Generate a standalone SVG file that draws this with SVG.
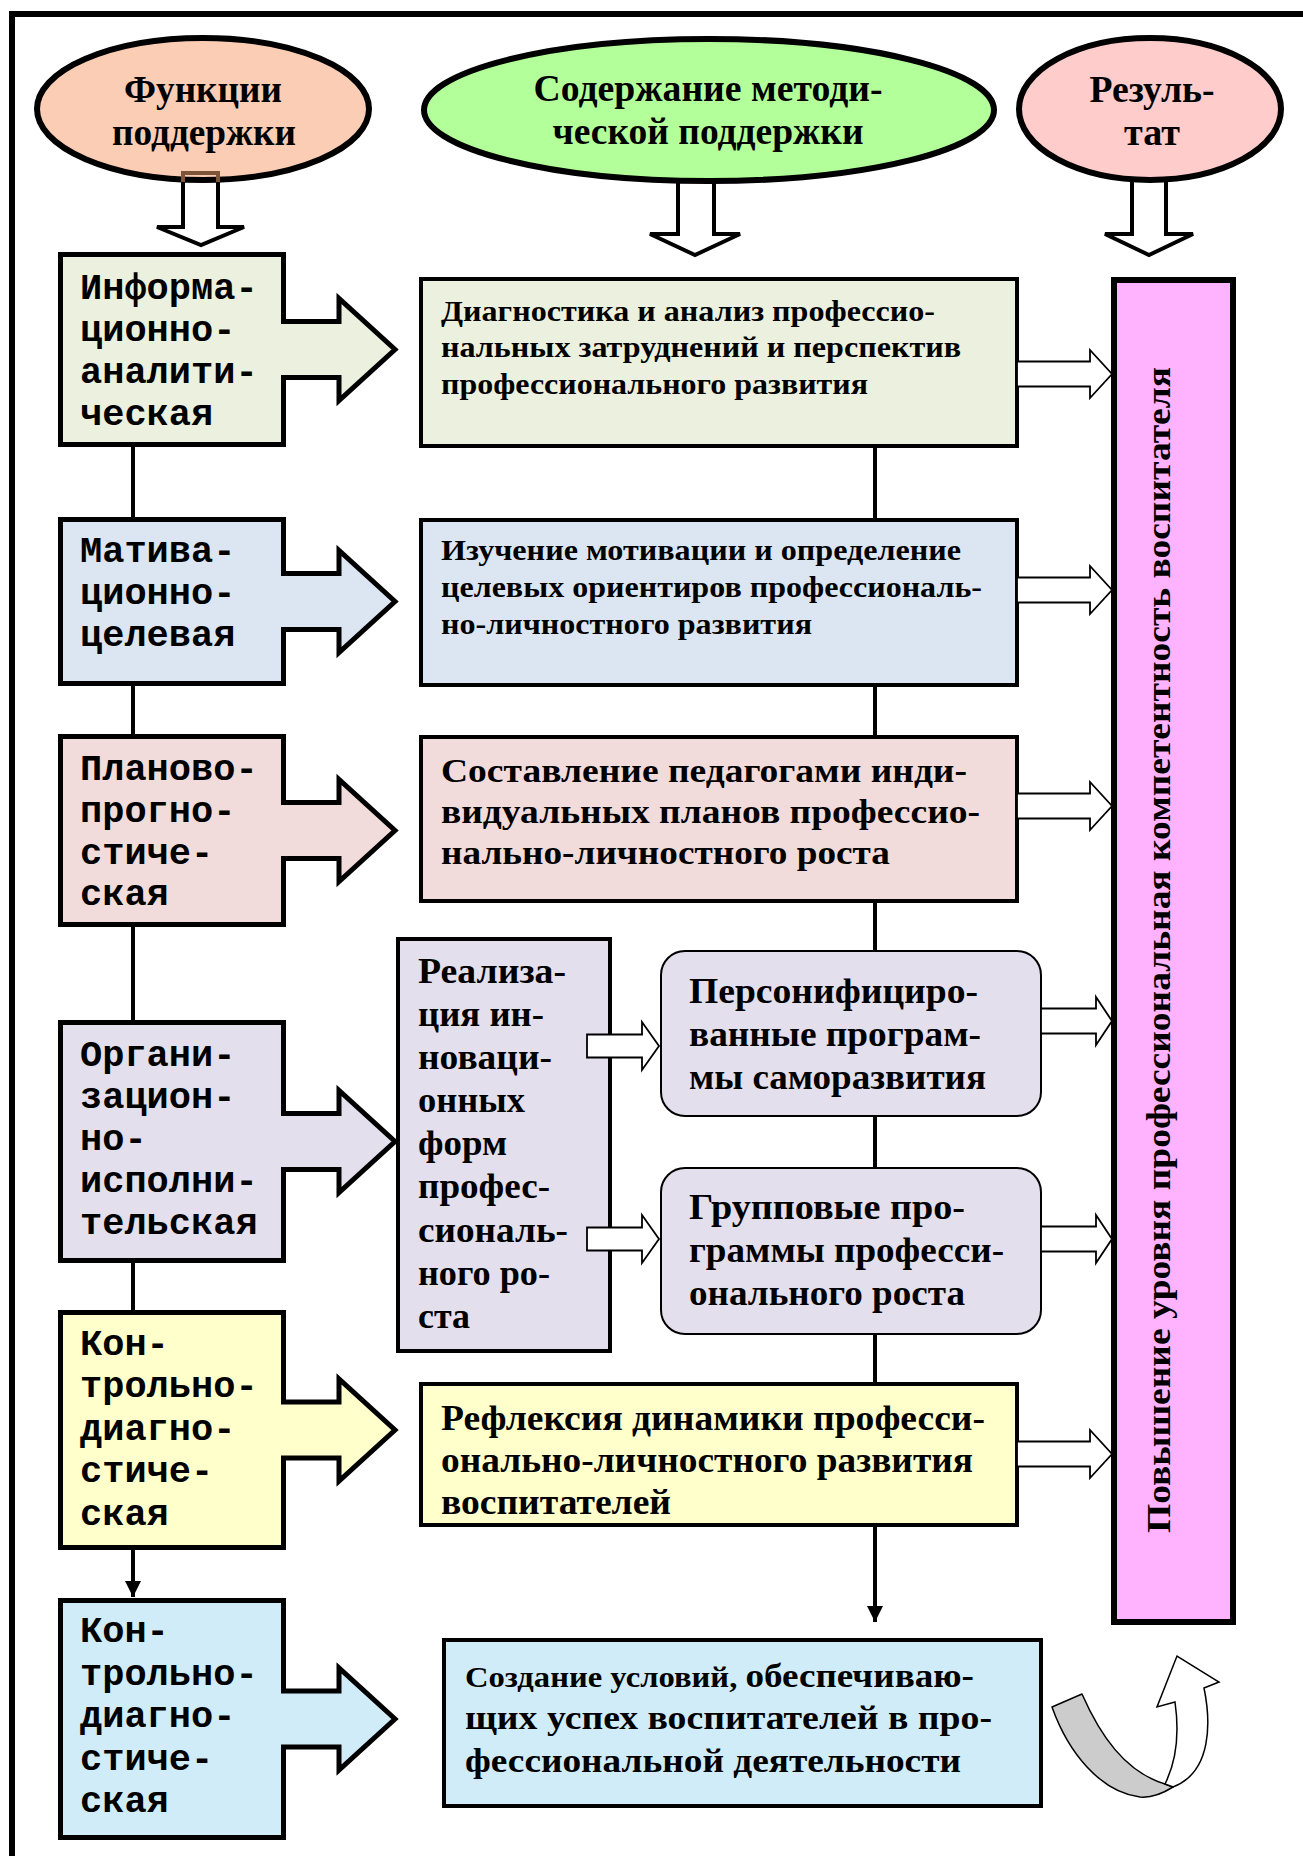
<svg xmlns="http://www.w3.org/2000/svg" width="1303" height="1856" viewBox="0 0 1303 1856">
<style>
.t{font-family:"Liberation Serif","Times New Roman",serif;font-weight:bold;fill:#000}
.m{font-family:"Liberation Mono","Courier New",monospace;font-weight:bold;font-size:37px;fill:#000}
.bx{stroke:#000;stroke-width:4}
.lb{stroke:#000;stroke-width:5;stroke-linejoin:miter}
.rb{stroke:#000;stroke-width:2}
.ln{stroke:#000;stroke-width:4;fill:none}
.ha{fill:#fff;stroke:#000;stroke-width:1.8;stroke-linejoin:miter}
.ba{fill:#fff;stroke:#000;stroke-width:4;stroke-linejoin:miter}
.el{stroke:#000;stroke-width:6}
</style>
<defs>
<marker id="ah" viewBox="0 0 10 10" refX="10" refY="5" markerWidth="4" markerHeight="4" orient="auto" markerUnits="strokeWidth">
<path d="M0,0 L10,5 L0,10 Z" fill="#000"/>
</marker>
</defs>
<rect width="1303" height="1856" fill="#fff"/>
<path d="M12,1856 V14 H1303" fill="none" stroke="#000" stroke-width="6"/>

<g id="header-arrows">
<polygon class="ba" points="183,175 218,175 218,227 244,227 201,245 157,227 183,227"/>
<polygon class="ba" points="678,170 714,170 714,234 740,234 695,255 650,234 678,234"/>
<polygon class="ba" points="1132,170 1166,170 1166,234 1193,234 1149,255 1105,234 1132,234"/>
</g>

<g id="ellipse-functions">
<ellipse class="el" cx="203" cy="109" rx="166" ry="71" fill="#FBCDB4"/>
<path d="M183,182 V173 H218 V182" fill="none" stroke="#7F5539" stroke-width="4"/>
<text class="t" x="203" y="102" font-size="37" text-anchor="middle" textLength="158" lengthAdjust="spacingAndGlyphs">Функции</text>
<text class="t" x="204" y="145" font-size="37" text-anchor="middle" textLength="184" lengthAdjust="spacingAndGlyphs">поддержки</text>
</g>
<g id="ellipse-content">
<ellipse class="el" cx="709" cy="110" rx="285" ry="71" fill="#B3FF99"/>
<text class="t" x="708" y="101" font-size="37" text-anchor="middle" textLength="349" lengthAdjust="spacingAndGlyphs">Содержание методи-</text>
<text class="t" x="708" y="144" font-size="37" text-anchor="middle" textLength="311" lengthAdjust="spacingAndGlyphs">ческой поддержки</text>
</g>
<g id="ellipse-result">
<ellipse class="el" cx="1150" cy="109" rx="131" ry="71" fill="#FFCCCC"/>
<text class="t" x="1152" y="102" font-size="37" text-anchor="middle" textLength="125" lengthAdjust="spacingAndGlyphs">Резуль-</text>
<text class="t" x="1152" y="145" font-size="37" text-anchor="middle" textLength="56" lengthAdjust="spacingAndGlyphs">тат</text>
</g>

<g id="connectors">
<line class="ln" x1="133" y1="447" x2="133" y2="517"/>
<line class="ln" x1="133" y1="686" x2="133" y2="734"/>
<line class="ln" x1="133" y1="927" x2="133" y2="1020"/>
<line class="ln" x1="133" y1="1263" x2="133" y2="1310"/>
<line class="ln" x1="133" y1="1550" x2="133" y2="1597" marker-end="url(#ah)"/>
<line class="ln" x1="875" y1="448" x2="875" y2="518"/>
<line class="ln" x1="875" y1="687" x2="875" y2="735"/>
<line class="ln" x1="875" y1="903" x2="875" y2="950"/>
<line class="ln" x1="875" y1="1117" x2="875" y2="1167"/>
<line class="ln" x1="875" y1="1335" x2="875" y2="1382"/>
<line class="ln" x1="875" y1="1527" x2="875" y2="1622" marker-end="url(#ah)"/>
</g>

<g id="f-info">
<path class="lb" fill="#EBF1DE" d="M60.5,254.5 H283.5 V321.5 H339 V298.5 L395,349.5 L339,400.5 V377.5 H283.5 V444.5 H60.5 Z"/>
<text class="m" x="80" y="299">Информа-</text>
<text class="m" x="80" y="341">ционно-</text>
<text class="m" x="80" y="383">аналити-</text>
<text class="m" x="80" y="425">ческая</text>
</g>
<g id="f-motiv">
<path class="lb" fill="#DCE6F2" d="M60.5,519.5 H283.5 V573.5 H339 V550.5 L395,601.5 L339,652.5 V629.5 H283.5 V683.5 H60.5 Z"/>
<text class="m" x="80" y="562">Матива-</text>
<text class="m" x="80" y="604">ционно-</text>
<text class="m" x="80" y="646">целевая</text>
</g>
<g id="f-plan">
<path class="lb" fill="#F2DCDB" d="M60.5,736.5 H283.5 V802.5 H339 V779.5 L395,830.5 L339,881.5 V858.5 H283.5 V924.5 H60.5 Z"/>
<text class="m" x="80" y="780">Планово-</text>
<text class="m" x="80" y="822">прогно-</text>
<text class="m" x="80" y="864">стиче-</text>
<text class="m" x="80" y="905">ская</text>
</g>
<g id="f-org">
<path class="lb" fill="#E4DFEC" d="M60.5,1022.5 H283.5 V1113.5 H339 V1090.5 L395,1141.5 L339,1192.5 V1169.5 H283.5 V1260.5 H60.5 Z"/>
<text class="m" x="80" y="1066">Органи-</text>
<text class="m" x="80" y="1108">зацион-</text>
<text class="m" x="80" y="1150">но-</text>
<text class="m" x="80" y="1192">исполни-</text>
<text class="m" x="80" y="1234">тельская</text>
</g>
<g id="f-control1">
<path class="lb" fill="#FFFFCC" d="M60.5,1312.5 H283.5 V1402 H339 V1379 L395,1430 L339,1481 V1458 H283.5 V1547.5 H60.5 Z"/>
<text class="m" x="80" y="1355">Кон-</text>
<text class="m" x="80" y="1397">трольно-</text>
<text class="m" x="80" y="1440">диагно-</text>
<text class="m" x="80" y="1482">стиче-</text>
<text class="m" x="80" y="1525">ская</text>
</g>
<g id="f-control2">
<path class="lb" fill="#D1ECF9" d="M60.5,1600.5 H283.5 V1691 H339 V1668 L395,1719 L339,1770 V1747 H283.5 V1837.5 H60.5 Z"/>
<text class="m" x="80" y="1642">Кон-</text>
<text class="m" x="80" y="1685">трольно-</text>
<text class="m" x="80" y="1727">диагно-</text>
<text class="m" x="80" y="1770">стиче-</text>
<text class="m" x="80" y="1812">ская</text>
</g>

<g id="c-diag">
<rect class="bx" x="421" y="279" width="596" height="167" fill="#EBF1DE"/>
<text class="t" font-size="30" x="441" y="321" textLength="494" lengthAdjust="spacingAndGlyphs">Диагностика и анализ профессио-</text>
<text class="t" font-size="30" x="441" y="357" textLength="520" lengthAdjust="spacingAndGlyphs">нальных затруднений и перспектив</text>
<text class="t" font-size="30" x="441" y="394" textLength="427" lengthAdjust="spacingAndGlyphs">профессионального развития</text>
</g>
<g id="c-motiv">
<rect class="bx" x="421" y="520" width="596" height="165" fill="#DCE6F2"/>
<text class="t" font-size="30" x="441" y="560" textLength="520" lengthAdjust="spacingAndGlyphs">Изучение мотивации и определение</text>
<text class="t" font-size="30" x="441" y="597" textLength="541" lengthAdjust="spacingAndGlyphs">целевых ориентиров профессиональ-</text>
<text class="t" font-size="30" x="441" y="634" textLength="371" lengthAdjust="spacingAndGlyphs">но-личностного развития</text>
</g>
<g id="c-plan">
<rect class="bx" x="421" y="737" width="596" height="164" fill="#F2DCDB"/>
<text class="t" font-size="34" x="441" y="782" textLength="526" lengthAdjust="spacingAndGlyphs">Составление педагогами инди-</text>
<text class="t" font-size="34" x="441" y="823" textLength="539" lengthAdjust="spacingAndGlyphs">видуальных планов профессио-</text>
<text class="t" font-size="34" x="441" y="864" textLength="449" lengthAdjust="spacingAndGlyphs">нально-личностного роста</text>
</g>
<g id="c-realiz">
<rect class="bx" x="398" y="939" width="212" height="412" fill="#E4DFEC"/>
<text class="t" font-size="35" x="418" y="983" textLength="148" lengthAdjust="spacingAndGlyphs">Реализа-</text>
<text class="t" font-size="35" x="418" y="1026" textLength="126" lengthAdjust="spacingAndGlyphs">ция ин-</text>
<text class="t" font-size="35" x="418" y="1069" textLength="134" lengthAdjust="spacingAndGlyphs">новаци-</text>
<text class="t" font-size="35" x="418" y="1112" textLength="107" lengthAdjust="spacingAndGlyphs">онных</text>
<text class="t" font-size="35" x="418" y="1155" textLength="89" lengthAdjust="spacingAndGlyphs">форм</text>
<text class="t" font-size="35" x="418" y="1198" textLength="132" lengthAdjust="spacingAndGlyphs">профес-</text>
<text class="t" font-size="35" x="418" y="1242" textLength="150" lengthAdjust="spacingAndGlyphs">сиональ-</text>
<text class="t" font-size="35" x="418" y="1285" textLength="132" lengthAdjust="spacingAndGlyphs">ного ро-</text>
<text class="t" font-size="35" x="418" y="1328" textLength="52" lengthAdjust="spacingAndGlyphs">ста</text>
</g>
<g id="c-person">
<rect class="rb" x="661" y="951" width="380" height="165" rx="24" fill="#E4DFEC"/>
<text class="t" font-size="36" x="689" y="1003" textLength="289" lengthAdjust="spacingAndGlyphs">Персонифициро-</text>
<text class="t" font-size="36" x="689" y="1046" textLength="292" lengthAdjust="spacingAndGlyphs">ванные програм-</text>
<text class="t" font-size="36" x="689" y="1089" textLength="297" lengthAdjust="spacingAndGlyphs">мы саморазвития</text>
</g>
<g id="c-group">
<rect class="rb" x="661" y="1168" width="380" height="166" rx="24" fill="#E4DFEC"/>
<text class="t" font-size="36" x="689" y="1219" textLength="276" lengthAdjust="spacingAndGlyphs">Групповые про-</text>
<text class="t" font-size="36" x="689" y="1262" textLength="315" lengthAdjust="spacingAndGlyphs">граммы професси-</text>
<text class="t" font-size="36" x="689" y="1305" textLength="276" lengthAdjust="spacingAndGlyphs">онального роста</text>
</g>
<g id="c-reflex">
<rect class="bx" x="421" y="1384" width="596" height="141" fill="#FFFFCC"/>
<text class="t" font-size="35" x="441" y="1430" textLength="544" lengthAdjust="spacingAndGlyphs">Рефлексия динамики професси-</text>
<text class="t" font-size="35" x="441" y="1472" textLength="532" lengthAdjust="spacingAndGlyphs">онально-личностного развития</text>
<text class="t" font-size="35" x="441" y="1514" textLength="230" lengthAdjust="spacingAndGlyphs">воспитателей</text>
</g>
<g id="c-create">
<rect class="bx" x="444" y="1640" width="597" height="166" fill="#D1ECF9"/>
<text class="t" x="465" y="1687" textLength="509" lengthAdjust="spacingAndGlyphs"><tspan font-size="29">Создание условий, </tspan><tspan font-size="33">обеспечиваю-</tspan></text>
<text class="t" font-size="33" x="465" y="1729" textLength="527" lengthAdjust="spacingAndGlyphs">щих успех воспитателей в про-</text>
<text class="t" font-size="33" x="465" y="1772" textLength="496" lengthAdjust="spacingAndGlyphs">фессиональной деятельности</text>
</g>

<g id="result">
<rect x="1114" y="280" width="119" height="1342" fill="#FFB3FF" stroke="#000" stroke-width="6"/>
<text class="t" font-size="34" transform="translate(1170,950) rotate(-90)" text-anchor="middle" textLength="1166" lengthAdjust="spacingAndGlyphs">Повышение уровня профессиональная компетентность воспитателя</text>
</g>

<g id="flow-arrows">
<polygon class="ha" points="1017,361.5 1090,361.5 1090,350 1112,374 1090,398 1090,386.5 1017,386.5"/>
<polygon class="ha" points="1017,577.5 1090,577.5 1090,566 1112,590 1090,614 1090,602.5 1017,602.5"/>
<polygon class="ha" points="1017,793.5 1090,793.5 1090,782 1112,806 1090,830 1090,818.5 1017,818.5"/>
<polygon class="ha" points="1041,1008.5 1096,1008.5 1096,997 1112,1021 1096,1045 1096,1033.5 1041,1033.5"/>
<polygon class="ha" points="1041,1226.5 1096,1226.5 1096,1215 1112,1239 1096,1263 1096,1251.5 1041,1251.5"/>
<polygon class="ha" points="1017,1441.5 1090,1441.5 1090,1430 1112,1454 1090,1478 1090,1466.5 1017,1466.5"/>
<polygon class="ha" points="587,1034.5 642,1034.5 642,1022 659,1046 642,1070 642,1057.5 587,1057.5"/>
<polygon class="ha" points="587,1227.5 642,1227.5 642,1215 659,1239 642,1263 642,1250.5 587,1250.5"/>
</g>

<g id="cycle-arrow">
<path d="M1052,1707 L1082,1694 C1100,1735 1125,1772 1165,1784 L1173,1787 C1162,1794 1152,1798 1140,1797 C1100,1792 1068,1752 1052,1707 Z" fill="#CCCCCC" stroke="#000" stroke-width="1.5" stroke-linejoin="round"/>
<path d="M1165,1784 C1177,1760 1179,1730 1175,1702 L1157,1707 L1177,1656 L1219,1682 L1204,1688 C1211,1722 1212,1772 1173,1787 Z" fill="#fff" stroke="#000" stroke-width="1.5" stroke-linejoin="miter"/>
</g>
</svg>
